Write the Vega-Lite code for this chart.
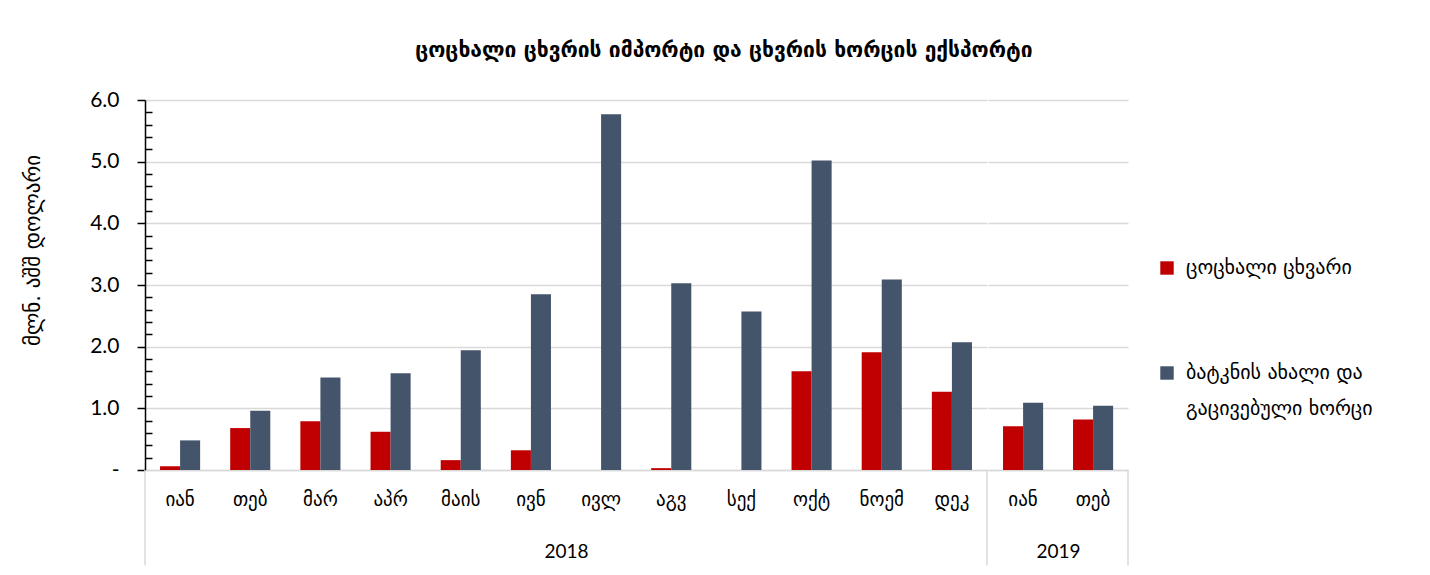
{
  "$schema": "https://vega.github.io/schema/vega-lite/v6.json",
  "padding": {"left": 22, "top": 40, "right": 5, "bottom": 5},
  "background": "white",
  "title": {"text": "ცოცხალი ცხვრის იმპორტი და ცხვრის ხორცის ექსპორტი", "font": "DejaVu Sans", "fontSize": 21, "fontWeight": "bold", "color": "#000000", "anchor": "middle", "offset": 28, "dx": 26},
  "data": {"values": [
    {"year": "2018", "month": "იან", "series": "ცოცხალი ცხვარი", "value": 0.06},
    {"year": "2018", "month": "იან", "series": "ბატკნის ახალი და გაცივებული ხორცი", "value": 0.48},
    {"year": "2018", "month": "თებ", "series": "ცოცხალი ცხვარი", "value": 0.68},
    {"year": "2018", "month": "თებ", "series": "ბატკნის ახალი და გაცივებული ხორცი", "value": 0.96},
    {"year": "2018", "month": "მარ", "series": "ცოცხალი ცხვარი", "value": 0.79},
    {"year": "2018", "month": "მარ", "series": "ბატკნის ახალი და გაცივებული ხორცი", "value": 1.50},
    {"year": "2018", "month": "აპრ", "series": "ცოცხალი ცხვარი", "value": 0.62},
    {"year": "2018", "month": "აპრ", "series": "ბატკნის ახალი და გაცივებული ხორცი", "value": 1.57},
    {"year": "2018", "month": "მაის", "series": "ცოცხალი ცხვარი", "value": 0.16},
    {"year": "2018", "month": "მაის", "series": "ბატკნის ახალი და გაცივებული ხორცი", "value": 1.94},
    {"year": "2018", "month": "ივნ", "series": "ცოცხალი ცხვარი", "value": 0.32},
    {"year": "2018", "month": "ივნ", "series": "ბატკნის ახალი და გაცივებული ხორცი", "value": 2.85},
    {"year": "2018", "month": "ივლ", "series": "ცოცხალი ცხვარი", "value": 0},
    {"year": "2018", "month": "ივლ", "series": "ბატკნის ახალი და გაცივებული ხორცი", "value": 5.77},
    {"year": "2018", "month": "აგვ", "series": "ცოცხალი ცხვარი", "value": 0.03},
    {"year": "2018", "month": "აგვ", "series": "ბატკნის ახალი და გაცივებული ხორცი", "value": 3.03},
    {"year": "2018", "month": "სექ", "series": "ცოცხალი ცხვარი", "value": 0},
    {"year": "2018", "month": "სექ", "series": "ბატკნის ახალი და გაცივებული ხორცი", "value": 2.57},
    {"year": "2018", "month": "ოქტ", "series": "ცოცხალი ცხვარი", "value": 1.60},
    {"year": "2018", "month": "ოქტ", "series": "ბატკნის ახალი და გაცივებული ხორცი", "value": 5.02},
    {"year": "2018", "month": "ნოემ", "series": "ცოცხალი ცხვარი", "value": 1.91},
    {"year": "2018", "month": "ნოემ", "series": "ბატკნის ახალი და გაცივებული ხორცი", "value": 3.09},
    {"year": "2018", "month": "დეკ", "series": "ცოცხალი ცხვარი", "value": 1.27},
    {"year": "2018", "month": "დეკ", "series": "ბატკნის ახალი და გაცივებული ხორცი", "value": 2.07},
    {"year": "2019", "month": "იან", "series": "ცოცხალი ცხვარი", "value": 0.71},
    {"year": "2019", "month": "იან", "series": "ბატკნის ახალი და გაცივებული ხორცი", "value": 1.09},
    {"year": "2019", "month": "თებ", "series": "ცოცხალი ცხვარი", "value": 0.82},
    {"year": "2019", "month": "თებ", "series": "ბატკნის ახალი და გაცივებული ხორცი", "value": 1.04}
  ]},
  "spacing": 0,
  "resolve": {"scale": {"color": "shared", "y": "shared"}},
  "hconcat": [
    {
      "width": 842,
      "height": 370,
      "transform": [{"filter": "datum.year == '2018'"}],
      "layer": [
        {
          "mark": {"type": "bar"},
          "encoding": {
            "x": {"field": "month", "type": "nominal", "sort": null,
                  "scale": {"paddingInner": 0, "paddingOuter": 0},
                  "axis": {"title": "2018", "labelAngle": 0, "ticks": false, "domainColor": "#d9d9d9", "domainWidth": 1.5, "labelFont": "DejaVu Sans", "labelFontSize": 19, "labelColor": "#000000", "labelPadding": 20, "titleFont": "Lato", "titleFontSize": 19, "titleFontWeight": "normal", "titleColor": "#000000", "titlePadding": 33}},
            "xOffset": {"field": "series", "type": "nominal", "sort": null,
                        "scale": {"domain": ["ცოცხალი ცხვარი", "ბატკნის ახალი და გაცივებული ხორცი"], "paddingInner": 0, "paddingOuter": 0.75}},
            "y": {"field": "value", "type": "quantitative",
                  "scale": {"domain": [0, 6], "nice": false},
                  "axis": {"orient": "left", "tickCount": 40, "values": [0, 0.2, 0.4, 0.6, 0.8, 1, 1.2, 1.4, 1.6, 1.8, 2, 2.2, 2.4, 2.6, 2.8, 3, 3.2, 3.4, 3.6, 3.8, 4, 4.2, 4.4, 4.6, 4.8, 5, 5.2, 5.4, 5.6, 5.8, 6],
                           "labelExpr": "abs(datum.value - round(datum.value)) > 0.01 ? '' : (datum.value == 0 ? '-' : format(datum.value, '.1f'))",
                           "tickSize": {"condition": {"test": "abs(datum.value - round(datum.value)) > 0.01", "value": -7}, "value": 8},
                           "tickColor": "#000000", "tickWidth": 1.5, "domainColor": "#000000", "domainWidth": 1.5,
                           "grid": true, "gridColor": "#d9d9d9", "gridWidth": 1.5,
                           "gridOpacity": {"condition": {"test": "abs(datum.value - round(datum.value)) > 0.01", "value": 0}, "value": 1},
                           "labelFont": "Lato", "labelFontSize": 21, "labelColor": "#000000", "labelPadding": 18,
                           "title": "მლნ. აშშ დოლარი", "titleFont": "DejaVu Sans", "titleFontSize": 21, "titleFontWeight": "normal", "titleColor": "#000000", "titlePadding": 46, "titleY": 150}},
            "color": {"field": "series", "type": "nominal",
                      "scale": {"domain": ["ცოცხალი ცხვარი", "ბატკნის ახალი და გაცივებული ხორცი"], "range": ["#C00000", "#44546A"]},
                      "legend": {"title": null, "orient": "none", "legendX": 1012, "legendY": 158, "direction": "vertical", "symbolType": "square", "symbolSize": 180, "symbolStrokeWidth": 0, "labelFont": "DejaVu Sans", "labelFontSize": 20, "labelColor": "#000000", "labelLimit": 400, "rowPadding": 85, "labelOffset": 9, "labelExpr": "datum.label == 'ბატკნის ახალი და გაცივებული ხორცი' ? ['ბატკნის ახალი და', 'გაცივებული ხორცი'] : datum.label", "labelBaseline": "middle"}}
          }
        },
        {
          "transform": [{"filter": "datum.month == 'იან' && datum.series == 'ცოცხალი ცხვარი'"}],
          "mark": {"type": "rule", "color": "#d9d9d9", "strokeWidth": 1.5},
          "encoding": {
            "x": {"datum": "იან", "type": "nominal", "bandPosition": 0},
            "y": {"datum": 0, "type": "quantitative", "scale": {"domain": [0, 6], "nice": false}},
            "y2": {"datum": -1.55}
          }
        },
        {
          "transform": [{"filter": "datum.month == 'დეკ' && datum.series == 'ცოცხალი ცხვარი'"}],
          "mark": {"type": "rule", "color": "#d9d9d9", "strokeWidth": 1.5},
          "encoding": {
            "x": {"datum": "დეკ", "type": "nominal", "bandPosition": 1},
            "y": {"datum": 0, "type": "quantitative", "scale": {"domain": [0, 6], "nice": false}},
            "y2": {"datum": -1.55}
          }
        }
      ]
    },
    {
      "width": 140,
      "height": 370,
      "transform": [{"filter": "datum.year == '2019'"}],
      "layer": [
        {
          "mark": {"type": "bar"},
          "encoding": {
            "x": {"field": "month", "type": "nominal", "sort": null,
                  "scale": {"paddingInner": 0, "paddingOuter": 0},
                  "axis": {"title": "2019", "labelAngle": 0, "ticks": false, "domainColor": "#d9d9d9", "domainWidth": 1.5, "labelFont": "DejaVu Sans", "labelFontSize": 19, "labelColor": "#000000", "labelPadding": 20, "titleFont": "Lato", "titleFontSize": 19, "titleFontWeight": "normal", "titleColor": "#000000", "titlePadding": 33}},
            "xOffset": {"field": "series", "type": "nominal", "sort": null,
                        "scale": {"domain": ["ცოცხალი ცხვარი", "ბატკნის ახალი და გაცივებული ხორცი"], "paddingInner": 0, "paddingOuter": 0.75}},
            "y": {"field": "value", "type": "quantitative",
                  "scale": {"domain": [0, 6], "nice": false},
                  "axis": {"values": [0, 1, 2, 3, 4, 5, 6], "labels": false, "ticks": false, "domain": false, "grid": true, "gridColor": "#d9d9d9", "gridWidth": 1.5, "title": null}},
            "color": {"field": "series", "type": "nominal",
                      "scale": {"domain": ["ცოცხალი ცხვარი", "ბატკნის ახალი და გაცივებული ხორცი"], "range": ["#C00000", "#44546A"]}}
          }
        },
        {
          "transform": [{"filter": "datum.month == 'თებ' && datum.series == 'ცოცხალი ცხვარი'"}],
          "mark": {"type": "rule", "color": "#d9d9d9", "strokeWidth": 1.5},
          "encoding": {
            "x": {"datum": "თებ", "type": "nominal", "bandPosition": 1},
            "y": {"datum": 0, "type": "quantitative", "scale": {"domain": [0, 6], "nice": false}},
            "y2": {"datum": -1.55}
          }
        }
      ]
    }
  ],
  "config": {
    "view": {"stroke": null},
    "axis": {"labelOverlap": false},
    "style": {"guide-label": {"lineHeight": 36}}
  }
}
